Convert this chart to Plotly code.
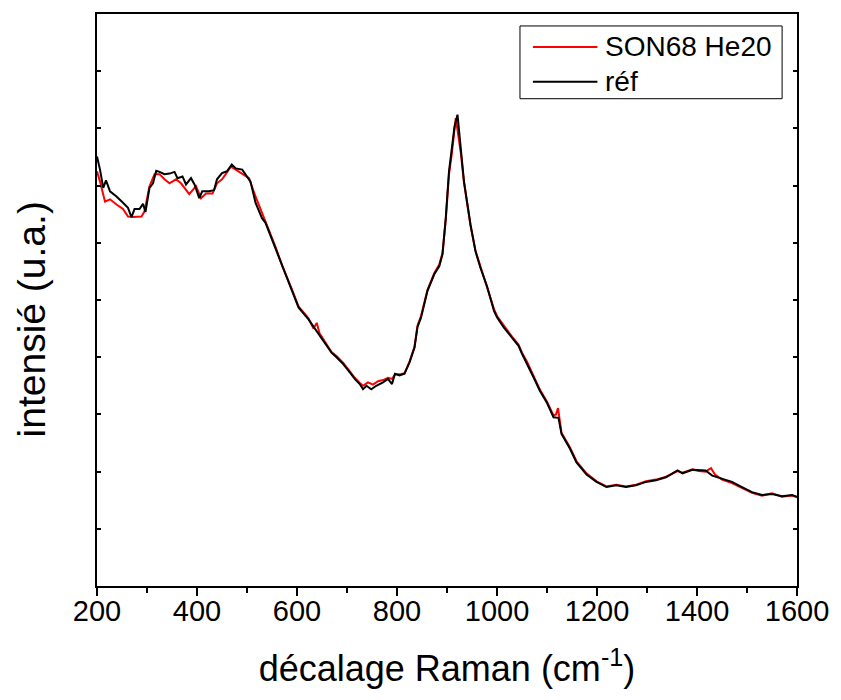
import plotly.graph_objects as go

# Raman spectra: wavenumber shift (cm-1) and intensity (arbitrary units)
ref_shift = [200, 206, 212.5, 218, 226, 239, 252, 262, 269, 275, 285, 292, 297, 305, 312,
             318.5, 325, 335, 345, 355, 361, 371, 378, 388, 395, 404.5, 410.5, 424, 434, 440,
             450, 460, 469.5, 477.5, 490.5, 497, 507, 517, 523.5, 530, 537, 557, 570, 590, 603,
             623, 639.5, 656, 669, 679, 692.5, 706, 715.5, 725.5, 732, 739, 748.5, 758.5, 772,
             782, 790, 796, 805, 815, 825, 835, 841, 848, 861, 874.5, 884.5, 891, 897.5, 904,
             909.5, 915, 921, 927.5, 934, 947, 957, 967, 980, 994, 1000, 1013.5, 1030, 1043,
             1050, 1060, 1073, 1086, 1099.5, 1113, 1123, 1129, 1146, 1159, 1179, 1199, 1219,
             1238.5, 1258, 1278, 1298, 1318, 1338, 1361, 1371, 1391, 1404, 1417, 1430.5, 1450,
             1470, 1490, 1510, 1530, 1550, 1570, 1590, 1600]
ref_intensity = [7.51, 7.28, 6.96, 7.09, 6.90, 6.81, 6.70, 6.61, 6.45, 6.59, 6.59, 6.68, 6.54,
                 6.96, 7.04, 7.26, 7.24, 7.20, 7.21, 7.24, 7.13, 7.16, 7.02, 7.13, 7.02, 6.78,
                 6.90, 6.90, 6.92, 7.11, 7.22, 7.25, 7.37, 7.30, 7.28, 7.20, 7.07, 6.70, 6.58,
                 6.43, 6.35, 5.91, 5.59, 5.16, 4.87, 4.66, 4.46, 4.26, 4.08, 4.00, 3.88, 3.73,
                 3.62, 3.53, 3.44, 3.50, 3.44, 3.50, 3.56, 3.62, 3.53, 3.71, 3.68, 3.71, 3.91,
                 4.17, 4.53, 4.69, 5.16, 5.45, 5.59, 5.80, 6.43, 7.25, 7.60, 8.03, 8.24, 7.60,
                 7.07, 6.32, 5.85, 5.56, 5.24, 4.81, 4.70, 4.52, 4.34, 4.20, 4.06, 3.89, 3.65,
                 3.41, 3.21, 2.95, 2.94, 2.66, 2.40, 2.16, 1.95, 1.82, 1.73, 1.76, 1.73, 1.76,
                 1.82, 1.85, 1.90, 2.02, 1.97, 2.03, 2.02, 2.02, 1.93, 1.88, 1.82, 1.73, 1.64,
                 1.59, 1.61, 1.57, 1.59, 1.56]

he20_shift = [200, 206, 216, 226, 239, 252, 262, 271.5, 289, 295, 305, 315, 325, 335, 345,
              358, 368, 378, 384.5, 398, 408, 418, 431, 440, 450, 457.5, 467.5, 477.5, 490.5,
              504, 517, 530, 537, 557, 570, 590, 603, 623, 633, 639.5, 645, 656, 669, 679,
              692.5, 706, 715.5, 725.5, 732, 742, 752, 762, 772, 782, 790, 796, 805, 815, 825,
              835, 841, 848, 861, 874.5, 884.5, 891, 897.5, 904, 909.5, 917.5, 927.5, 934, 947,
              957, 967, 980, 994, 1000, 1013.5, 1030, 1043, 1050, 1060, 1073, 1086, 1099.5,
              1113, 1118, 1122, 1129, 1146, 1159, 1179, 1199, 1219, 1238.5, 1258, 1278, 1298,
              1318, 1338, 1361, 1371, 1391, 1404, 1417, 1428, 1436, 1450, 1470, 1490, 1510,
              1530, 1550, 1570, 1590, 1600]
he20_intensity = [7.25, 7.07, 6.72, 6.76, 6.67, 6.59, 6.46, 6.45, 6.46, 6.55, 6.99, 7.20, 7.20,
                  7.11, 7.04, 7.11, 7.04, 6.93, 6.85, 6.99, 6.78, 6.86, 6.86, 7.04, 7.11, 7.20,
                  7.33, 7.28, 7.21, 7.13, 6.81, 6.50, 6.37, 5.93, 5.61, 5.18, 4.89, 4.68, 4.50,
                  4.60, 4.42, 4.27, 4.09, 4.02, 3.90, 3.75, 3.64, 3.55, 3.50, 3.56, 3.52, 3.58,
                  3.60, 3.64, 3.62, 3.70, 3.70, 3.72, 3.92, 4.18, 4.55, 4.72, 5.18, 5.47, 5.62,
                  5.82, 6.40, 7.20, 7.55, 8.18, 7.58, 7.05, 6.30, 5.86, 5.58, 5.26, 4.84, 4.72,
                  4.55, 4.36, 4.22, 4.08, 3.92, 3.67, 3.43, 3.23, 2.98, 3.00, 3.11, 2.68, 2.42,
                  2.18, 1.97, 1.83, 1.74, 1.77, 1.74, 1.77, 1.83, 1.86, 1.91, 2.01, 1.98, 2.04,
                  2.01, 2.00, 2.06, 1.95, 1.86, 1.80, 1.71, 1.63, 1.58, 1.62, 1.56, 1.58, 1.55]

x_ticks = [200, 400, 600, 800, 1000, 1200, 1400, 1600]

series = [
    ("SON68 He20", he20_shift, he20_intensity, "#ff0000"),
    ("réf", ref_shift, ref_intensity, "#000000"),
]

FONT = "Liberation Sans, Arial, sans-serif"

fig = go.Figure()
for name, xs, ys, color in series:
    fig.add_trace(go.Scatter(x=xs, y=ys, mode="lines", name=name,
                             line=dict(color=color, width=2), showlegend=False))

# Plot-area edges in pixels, used to place the legend and y title in paper units
L, R, T, B = 97, 802, 12, 586
W, H = R - L, B - T
px = lambda v: (v - L) / W
py = lambda v: (B - v) / H

# Framed legend with long line samples
fig.add_shape(type="rect", xref="paper", yref="paper",
              x0=px(523), x1=px(787), y0=py(97), y1=py(24),
              line=dict(color="#000000", width=1), fillcolor="white")
for i, (name, xs, ys, color) in enumerate(series):
    yy = py(45 + 35 * i)
    fig.add_shape(type="line", xref="paper", yref="paper",
                  x0=px(536), x1=px(601), y0=yy, y1=yy,
                  line=dict(color=color, width=2))
    fig.add_annotation(xref="paper", yref="paper", x=px(607), y=yy, text=name,
                       showarrow=False, xanchor="left", yanchor="middle",
                       font=dict(family=FONT, size=28, color="#000000"))

# Vertical axis title
fig.add_annotation(xref="paper", yref="paper", x=px(31), y=py(318),
                   text="intensié (u.a.)", textangle=-90, showarrow=False,
                   xanchor="center", yanchor="middle",
                   font=dict(family=FONT, size=39, color="#000000"))

fig.update_layout(
    width=841, height=700,
    margin=dict(l=L, r=841 - R, t=T, b=700 - B),
    paper_bgcolor="white", plot_bgcolor="white",
    font=dict(family=FONT, color="#000000"),
    xaxis=dict(
        range=[200, 1600], tickvals=x_ticks, ticktext=[str(v) for v in x_ticks],
        ticks="outside", ticklen=8, tickwidth=1.5, tickcolor="#000000",
        ticklabelstandoff=-10,
        minor=dict(dtick=100, tick0=200, ticks="outside", ticklen=5, tickwidth=1.5,
                   tickcolor="#000000", showgrid=False),
        showline=True, linecolor="#000000", linewidth=1.5, mirror=True,
        showgrid=False, zeroline=False,
        tickfont=dict(family=FONT, size=29, color="#000000"),
        title=dict(text="décalage Raman (cm<sup>-1</sup>)",
                   font=dict(family=FONT, size=36, color="#000000"), standoff=30),
    ),
    yaxis=dict(
        range=[0, 10], dtick=1, tick0=0,
        ticks="inside", ticklen=4, tickwidth=1.5, tickcolor="#000000",
        showticklabels=False,
        showline=True, linecolor="#000000", linewidth=1.5, mirror="ticks",
        showgrid=False, zeroline=False,
    ),
)

fig.write_html("out.html")
